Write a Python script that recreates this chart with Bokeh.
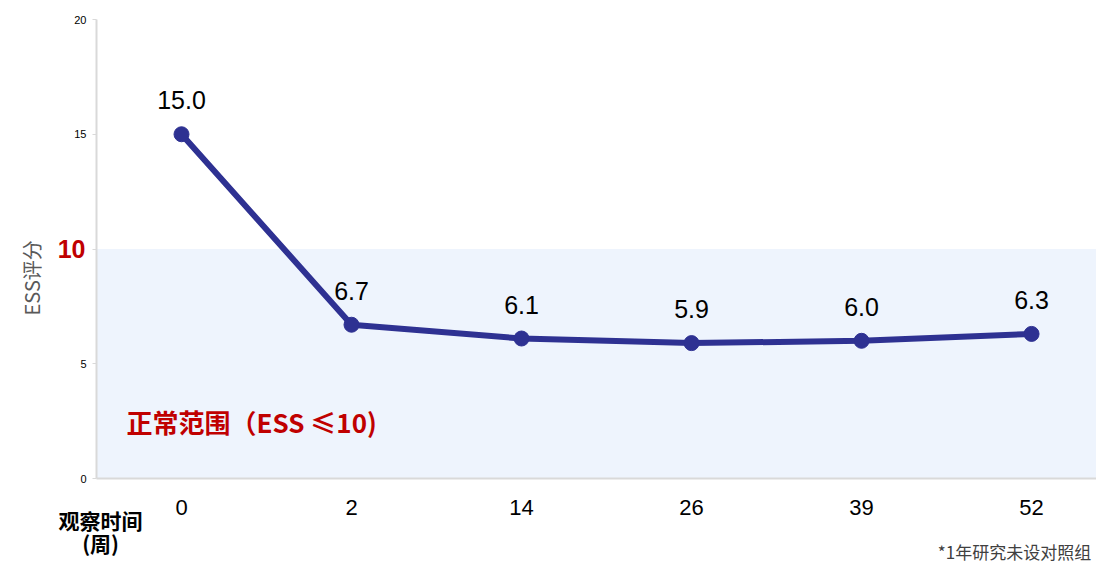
from bokeh.plotting import figure
from bokeh.models import (ColumnDataSource, Range1d, FixedTicker, BoxAnnotation, Label,
                          LinearAxis, Title)
from bokeh.core.properties import value
from bokeh.embed import file_html
from bokeh.resources import INLINE

# ---- data ----
weeks = ["0", "2", "14", "26", "39", "52"]
ess = [15.0, 6.7, 6.1, 5.9, 6.0, 6.3]
y_ticks = [0, 5, 10, 15, 20]
normal_limit = 10
x_title = ["观察时间", "(周)"]
y_title = "ESS评分"
band_text = "正常范围（ESS ≤10)"
footnote = "*1年研究未设对照组"

idx = list(range(len(weeks)))
src = ColumnDataSource(dict(x=idx, y=ess, lab=[f"{v:.1f}" for v in ess]))

p = figure(width=1096, height=566, output_backend="svg", toolbar_location=None,
           x_range=Range1d(-0.5, 5.382), y_range=Range1d(0, 20),
           min_border_left=96, min_border_right=0, min_border_top=19, min_border_bottom=88)
p.outline_line_color = None
p.xgrid.visible = False
p.ygrid.visible = False
p.background_fill_color = "white"

# shaded normal range
p.add_layout(BoxAnnotation(bottom=0, top=normal_limit, fill_color="#eef4fd", fill_alpha=1.0,
                           line_color=None, level="underlay"))

# line + markers
blue = "#2e3192"
p.line("x", "y", source=src, line_color=blue, line_width=6)
p.scatter("x", "y", source=src, size=15, fill_color=blue, line_color=blue)
p.text("x", "y", text="lab", source=src, text_font=value("Liberation Sans"),
       text_font_size="25px", text_color="black", text_align="center",
       text_baseline="alphabetic", y_offset=-34)

# band text
p.add_layout(Label(x=-0.5, y=2.5, x_offset=30, text=band_text,
                   text_font="Noto Sans CJK SC", text_font_style="bold",
                   text_font_size="26px", text_color="#c00000",
                   text_align="left", text_baseline="middle"))

# ---- y axis ----
ya = p.yaxis[0]
ya.ticker = FixedTicker(ticks=y_ticks)
ya.major_label_overrides = {normal_limit: ""}
ya.major_label_text_font = "Liberation Sans"
ya.major_label_text_font_size = "11px"
ya.major_label_text_color = "black"
ya.axis_line_color = "#d9d9d9"
ya.axis_line_width = 2
ya.major_tick_line_color = "#d9d9d9"
ya.major_tick_line_width = 1
ya.major_tick_out = 4
ya.major_tick_in = 0
ya.minor_tick_line_color = None
ya.major_label_standoff = 6

# highlighted "10" tick label on its own axis
ya2 = LinearAxis(ticker=FixedTicker(ticks=[normal_limit]), axis_line_color=None,
                 major_tick_line_color=None, minor_tick_line_color=None,
                 major_tick_out=0, major_tick_in=0, major_label_standoff=-14,
                 major_label_text_font="Liberation Sans", major_label_text_font_style="bold",
                 major_label_text_font_size="25px", major_label_text_color="#c00000")
p.add_layout(ya2, "left")

# y title
p.add_layout(Title(text=y_title, align="left", offset=163, standoff=18,
                   text_font="Noto Sans CJK SC", text_font_size="20px",
                   text_font_style="normal", text_color="#595959"), "left")

# ---- x axis ----
xa = p.xaxis[0]
xa.ticker = FixedTicker(ticks=idx)
xa.major_label_overrides = {i: w for i, w in zip(idx, weeks)}
xa.major_label_text_font = "Liberation Sans"
xa.major_label_text_font_size = "22px"
xa.major_label_text_color = "black"
xa.axis_line_color = "#d9d9d9"
xa.axis_line_width = 2
xa.major_tick_line_color = None
xa.major_tick_out = 0
xa.major_tick_in = 0
xa.minor_tick_line_color = None
xa.major_label_standoff = 21

def text_axis(pos, label, size, bold, color, standoff):
    ax = LinearAxis(ticker=FixedTicker(ticks=[pos]), major_label_overrides={pos: label},
                    axis_line_color=None, major_tick_line_color=None,
                    minor_tick_line_color=None, major_tick_out=0, major_tick_in=0,
                    major_label_standoff=standoff,
                    major_label_text_font="Noto Sans CJK SC",
                    major_label_text_font_style="bold" if bold else "normal",
                    major_label_text_font_size=size, major_label_text_color=color)
    p.add_layout(ax, "below")
    return ax

title_pos = -0.476
text_axis(title_pos, x_title[0], "21px", True, "black", -13)
text_axis(title_pos, x_title[1], "21px", True, "black", -10)
text_axis(4.9, footnote, "17px", False, "#404040", -22)

open("out.html", "w").write(file_html(p, INLINE))
